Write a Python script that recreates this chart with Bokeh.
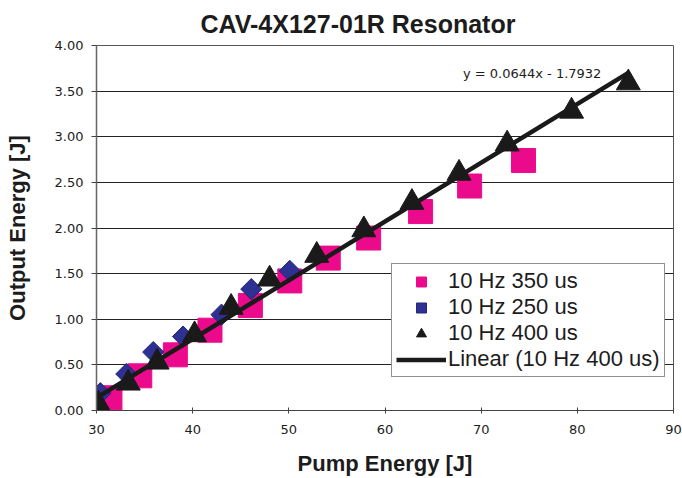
from bokeh.plotting import figure
from bokeh.models import Legend, LegendItem, Label, FixedTicker, NumeralTickFormatter, Title
from bokeh.embed import file_html
from bokeh.resources import INLINE
import numpy as np

# ---- data ----
pump_350 = [31.4, 34.5, 38.2, 41.8, 46.0, 50.1, 54.1, 58.3, 63.7, 68.8, 74.4]
out_350 = [0.14, 0.38, 0.61, 0.88, 1.15, 1.42, 1.67, 1.89, 2.18, 2.46, 2.74]

pump_250 = [30.4, 33.1, 35.9, 39.0, 43.0, 46.1, 50.1]
out_250 = [0.19, 0.40, 0.64, 0.81, 1.05, 1.33, 1.53]

pump_400 = [30.2, 33.3, 36.3, 40.2, 44.0, 48.0, 52.9, 57.8, 62.8, 67.7, 72.7, 79.4, 85.3]
out_400 = [0.07, 0.30, 0.53, 0.83, 1.13, 1.44, 1.70, 1.98, 2.28, 2.60, 2.92, 3.28, 3.59]

fit_slope = 0.0644
fit_intercept = -1.7932

x_ticks = [30, 40, 50, 60, 70, 80, 90]
y_ticks = [0.0, 0.5, 1.0, 1.5, 2.0, 2.5, 3.0, 3.5, 4.0]

labels = ["10 Hz 350 us", "10 Hz 250 us", "10 Hz 400 us", "Linear (10 Hz 400 us)"]
title_text = "CAV-4X127-01R Resonator"
eq_text = "y = 0.0644x - 1.7932"

TXT = "#1c1c1c"
FONT = "Liberation Sans"
TICKFONT = "DejaVu Sans"

p = figure(width=682, height=478, output_backend="svg", toolbar_location=None,
           x_range=(30, 90), y_range=(0, 4),
           min_border_left=96, min_border_right=9, min_border_top=45, min_border_bottom=68,
           title=None)

p.add_layout(Title(text=title_text, align="left", offset=104, text_font=FONT,
                   text_font_size="25px", text_font_style="bold", text_color=TXT,
                   standoff=15), "above")

p.background_fill_color = "white"
p.border_fill_color = "white"
p.outline_line_color = "#555555"
p.outline_line_width = 1

# grid
p.xgrid.visible = False
p.ygrid.grid_line_color = "#222222"
p.ygrid.grid_line_width = 1
p.ygrid.ticker = FixedTicker(ticks=y_ticks)

# axes
p.xaxis.ticker = FixedTicker(ticks=x_ticks)
p.yaxis.ticker = FixedTicker(ticks=y_ticks)
p.yaxis.formatter = NumeralTickFormatter(format="0.00")
for ax in (p.xaxis[0], p.yaxis[0]):
    ax.major_label_text_font = TICKFONT
    ax.major_label_text_font_size = "13px"
    ax.major_label_text_color = TXT
    ax.minor_tick_line_color = None
    ax.axis_label_text_font = FONT
    ax.axis_label_text_font_size = "22px"
    ax.axis_label_text_font_style = "bold"
    ax.axis_label_text_color = TXT
    ax.major_tick_line_color = "#444444"
p.xaxis.axis_label = "Pump Energy [J]"
p.yaxis.axis_label = "Output Energy [J]"
p.xaxis.axis_line_color = "#444444"
p.yaxis.axis_line_color = "#666666"
p.yaxis.axis_line_width = 1.5
p.xaxis.major_tick_in = 3
p.xaxis.major_tick_out = 3
p.yaxis.major_tick_in = 0
p.yaxis.major_tick_out = 5
p.xaxis.major_label_standoff = 11
p.yaxis.major_label_standoff = 8
p.xaxis.axis_label_standoff = 14
p.yaxis.axis_label_standoff = 22

# series
r350 = p.scatter(pump_350, out_350, marker="square", size=24,
                 fill_color="#EC0A8C", line_color="#EC0A8C")
r250 = p.scatter(pump_250, out_250, marker="square", size=15, angle=np.pi / 4,
                 fill_color="#2E3192", line_color="#23267a", line_width=1)
r400 = p.scatter(pump_400, out_400, marker="triangle", size=24,
                 fill_color="#1a1a1a", line_color="#1a1a1a")

fx = np.array([min(pump_400), max(pump_400)])
fy = fit_slope * fx + fit_intercept
rfit = p.line(fx, fy, line_color="#1a1a1a", line_width=4.5)

p.add_layout(Label(x=68.1, y=3.69, text=eq_text, text_font=TICKFONT,
                   text_font_size="13px", text_color=TXT,
                   text_align="left", text_baseline="middle"))

legend = Legend(items=[LegendItem(label=labels[0], renderers=[r350]),
                       LegendItem(label=labels[1], renderers=[r250]),
                       LegendItem(label=labels[2], renderers=[r400]),
                       LegendItem(label=labels[3], renderers=[rfit])],
                location=(295, 33))
legend.label_text_font = FONT
legend.label_text_font_size = "22px"
legend.label_text_color = TXT
legend.glyph_width = 50
legend.glyph_height = 25
legend.label_height = 25
legend.spacing = 0
legend.padding = 4
legend.label_standoff = 2
legend.border_line_color = "#222222"
legend.border_line_width = 1
legend.background_fill_color = "white"
legend.background_fill_alpha = 1.0
legend.margin = 0
p.add_layout(legend, "center")

open("out.html", "w").write(file_html(p, INLINE))
